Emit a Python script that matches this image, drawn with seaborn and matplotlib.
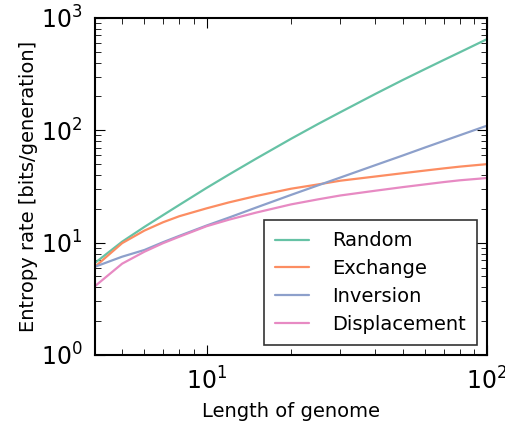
import numpy as np
import pandas as pd
import seaborn as sns
import matplotlib.pyplot as plt

# genome lengths and entropy rates
length = [4, 5, 6, 7, 8, 10, 12, 15, 20, 25, 30, 40, 50, 60, 70, 80, 100]
random_rate = [6.6, 10.2, 13.8, 17.6, 21.7, 30.7, 40.3, 55.8, 84, 114, 145, 211, 280, 350, 422, 495, 648]
exchange_rate = [6.1, 9.9, 12.8, 15.2, 17.2, 20.2, 22.8, 26.0, 30.2, 33.0, 35.6, 38.8, 41.5, 43.8, 45.8, 47.5, 50]
inversion_rate = [6.1, 7.5, 8.6, 10.1, 11.5, 14.2, 16.7, 20.5, 26.6, 32.4, 38.0, 49.0, 59.6, 70.2, 80.4, 90.4, 110]
displacement_rate = [4.1, 6.5, 8.3, 9.9, 11.3, 14.0, 16.0, 18.5, 21.9, 24.3, 26.3, 29.0, 31.2, 33.0, 34.6, 35.9, 37.6]
labels = ["Random", "Exchange", "Inversion", "Displacement"]

df = pd.DataFrame({
    "length": length * 4,
    "rate": random_rate + exchange_rate + inversion_rate + displacement_rate,
    "model": sum([[lab] * len(length) for lab in labels], []),
})

sns.set_style("white")
plt.rcParams.update({
    "font.family": ["DejaVu Sans"],
    "text.color": "black",
    "axes.labelcolor": "black",
    "xtick.color": "black",
    "ytick.color": "black",
    "xtick.direction": "in",
    "ytick.direction": "in",
    "xtick.bottom": True,
    "ytick.left": True,
    "xtick.top": True,
    "ytick.right": True,
    "xtick.major.size": 7,
    "ytick.major.size": 7,
    "xtick.minor.size": 4,
    "ytick.minor.size": 4,
    "xtick.minor.visible": True,
    "ytick.minor.visible": True,
    "axes.edgecolor": "black",
    "axes.linewidth": 1.5,
})

fig = plt.figure(figsize=(5.06, 4.28), dpi=100)
ax = fig.add_axes([0.1877, 0.1706, 0.7748, 0.7874])

sns.lineplot(data=df, x="length", y="rate", hue="model", hue_order=labels,
             palette="Set2", linewidth=1.6, ax=ax)

ax.set_xscale("log")
ax.set_yscale("log")
ax.set_xlim(4, 100)
ax.set_ylim(1, 1000)
ax.tick_params(axis="both", which="major", labelsize=17)
ax.tick_params(axis="x", which="major", pad=9)
ax.tick_params(axis="y", which="major", pad=9)
ax.set_xlabel("Length of genome", fontsize=14, labelpad=5)
ax.set_ylabel("Entropy rate [bits/generation]", fontsize=14, labelpad=2)

leg = ax.legend(loc="lower right", fontsize=14, fancybox=False, frameon=True,
                handlelength=1.7, borderpad=0.6, labelspacing=0.45,
                handletextpad=1.2, borderaxespad=0.5)
leg.get_frame().set_edgecolor("black")
leg.get_frame().set_linewidth(1.2)

fig.savefig("out.png", dpi=100)
